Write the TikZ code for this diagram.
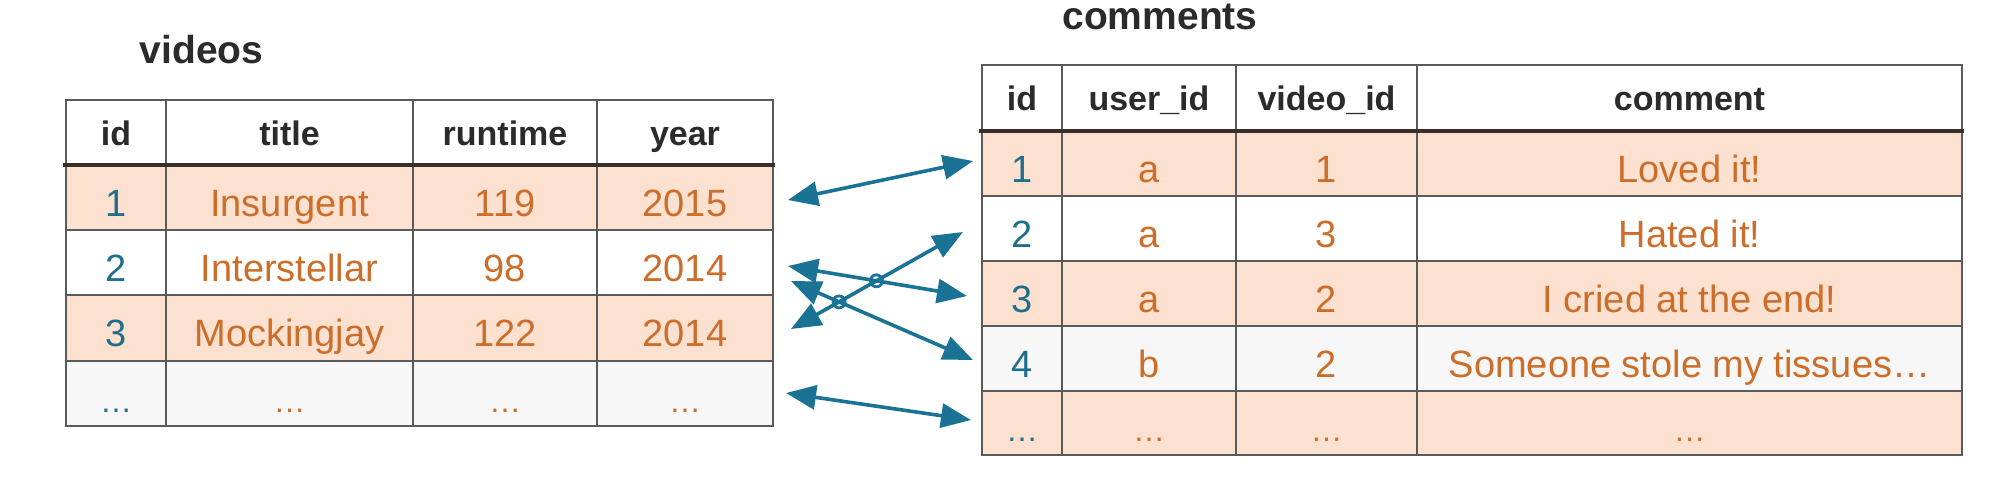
\documentclass[tikz,border=0pt]{standalone}
\usepackage{fontspec}
\setmainfont{Liberation Sans}
\usetikzlibrary{arrows.meta}
\definecolor{peach}{HTML}{FCE1D0}
\definecolor{greyrow}{HTML}{F7F7F7}
\definecolor{txtorange}{HTML}{CC6E2A}
\definecolor{idteal}{HTML}{1F6F8B}
\definecolor{arrowblue}{HTML}{1A7295}
\definecolor{gridgrey}{HTML}{5A5A5A}
\definecolor{headline}{HTML}{3A2E28}
\definecolor{hdrtxt}{HTML}{2B2B2B}
\begin{document}
\begin{tikzpicture}[x=0.5pt,y=-0.5pt,
  hdr/.style={anchor=base,inner sep=0pt,font=\fontsize{17}{20}\selectfont\bfseries,text=hdrtxt},
  dat/.style={anchor=base,inner sep=0pt,font=\fontsize{19}{22}\selectfont,text=txtorange},
  idc/.style={dat,text=idteal},
  dotsc/.style={anchor=base,inner sep=0pt,font=\fontsize{16}{20}\selectfont,text=txtorange},
  dotsid/.style={dotsc,text=idteal},
  ttl/.style={anchor=base,inner sep=0pt,font=\fontsize{19.5}{22}\selectfont\bfseries,text=hdrtxt},
  gridline/.style={draw=gridgrey,line width=1pt},
  headrule/.style={draw=headline,line width=1.6pt},
  link/.style={draw=arrowblue,line width=1.8pt,{Triangle[length=15pt,width=12pt]}-{Triangle[length=15pt,width=12pt]}},
  hop/.style={draw=arrowblue,line width=1.4pt},
]
\useasboundingbox (0,0) rectangle (1994,483);
\fill[white] (0,0) rectangle (1994,483);

% ---------- videos table ----------
\node[ttl] (vtitle) at (201.5,63) {videos};
\fill[peach] (66,165) rectangle (773,230);
\fill[peach] (66,295) rectangle (773,361);
\fill[greyrow] (66,361) rectangle (773,426);
\draw[gridline] (66,100) rectangle (773,426);
\foreach \x in {166,413,597} \draw[gridline] (\x,100) -- (\x,426);
\foreach \y in {230,295,361} \draw[gridline] (66,\y) -- (773,\y);
\draw[headrule] (63,165) -- (775,165);

\node[hdr] (vh1) at (116,145) {id};
\node[hdr] (vh2) at (289.5,145) {title};
\node[hdr] (vh3) at (505,145) {runtime};
\node[hdr] (vh4) at (685,145) {year};

\node[idc] (v11) at (116,216) {1};
\node[dat] (v12) at (289.5,216) {Insurgent};
\node[dat] (v13) at (505,216) {119};
\node[dat] (v14) at (685,216) {2015};

\node[idc] (v21) at (116,281) {2};
\node[dat] (v22) at (289.5,281) {Interstellar};
\node[dat] (v23) at (505,281) {98};
\node[dat] (v24) at (685,281) {2014};

\node[idc] (v31) at (116,346.5) {3};
\node[dat] (v32) at (289.5,346.5) {Mockingjay};
\node[dat] (v33) at (505,346.5) {122};
\node[dat] (v34) at (685,346.5) {2014};

\node[dotsid] (v41) at (116,412) {…};
\node[dotsc] (v42) at (289.5,412) {…};
\node[dotsc] (v43) at (505,412) {…};
\node[dotsc] (v44) at (685,412) {…};

% ---------- comments table ----------
\node[ttl] (ctitle) at (1160,29) {comments};
\fill[peach] (982,131) rectangle (1962,196);
\fill[peach] (982,261) rectangle (1962,326);
\fill[greyrow] (982,326) rectangle (1962,391);
\fill[peach] (982,391) rectangle (1962,455);
\draw[gridline] (982,65) rectangle (1962,455);
\foreach \x in {1062,1236,1417} \draw[gridline] (\x,65) -- (\x,455);
\foreach \y in {196,261,326,391} \draw[gridline] (982,\y) -- (1962,\y);
\draw[headrule] (979,131) -- (1964,131);

\node[hdr] (ch1) at (1022,110.5) {id};
\node[hdr] (ch2) at (1149,110.5) {user\_id};
\node[hdr] (ch3) at (1326.5,110.5) {video\_id};
\node[hdr] (ch4) at (1689.5,110.5) {comment};

\node[idc] (c11) at (1022,182) {1};
\node[dat] (c12) at (1149,182) {a};
\node[dat] (c13) at (1326.5,182) {1};
\node[dat] (c14) at (1689.5,182) {Loved it!};

\node[idc] (c21) at (1022,247) {2};
\node[dat] (c22) at (1149,247) {a};
\node[dat] (c23) at (1326.5,247) {3};
\node[dat] (c24) at (1689.5,247) {Hated it!};

\node[idc] (c31) at (1022,312) {3};
\node[dat] (c32) at (1149,312) {a};
\node[dat] (c33) at (1326.5,312) {2};
\node[dat] (c34) at (1689.5,312) {I cried at the end!};

\node[idc] (c41) at (1022,377) {4};
\node[dat] (c42) at (1149,377) {b};
\node[dat] (c43) at (1326.5,377) {2};
\node[dat] (c44) at (1689.5,377) {Someone stole my tissues…};

\node[dotsid] (c51) at (1022,441.5) {…};
\node[dotsc] (c52) at (1149,441.5) {…};
\node[dotsc] (c53) at (1326.5,441.5) {…};
\node[dotsc] (c54) at (1689.5,441.5) {…};

% ---------- connectors ----------
\coordinate (pv1) at (788,200);   \coordinate (pc1) at (973,161);
\coordinate (pv2a) at (788,266);  \coordinate (pc3) at (967,296);
\coordinate (pv2b) at (791,281);  \coordinate (pc4) at (973,360);
\coordinate (pv3) at (791,329);   \coordinate (pc2) at (963,232);
\coordinate (pv4) at (786,393);   \coordinate (pc5) at (971,420);
\draw[link] (pv1) -- (pc1);
\draw[link] (pv2a) -- (pc3);
\draw[link] (pv2b) -- (pc4);
\draw[link] (pv3) -- (pc2);
\draw[link] (pv4) -- (pc5);
\coordinate (hopA) at (876.4,280.8);
\coordinate (hopB) at (839.1,301.9);
\draw[hop] (hopA) circle[radius=6];
\draw[hop] (hopB) circle[radius=6];
\end{tikzpicture}
\end{document}
